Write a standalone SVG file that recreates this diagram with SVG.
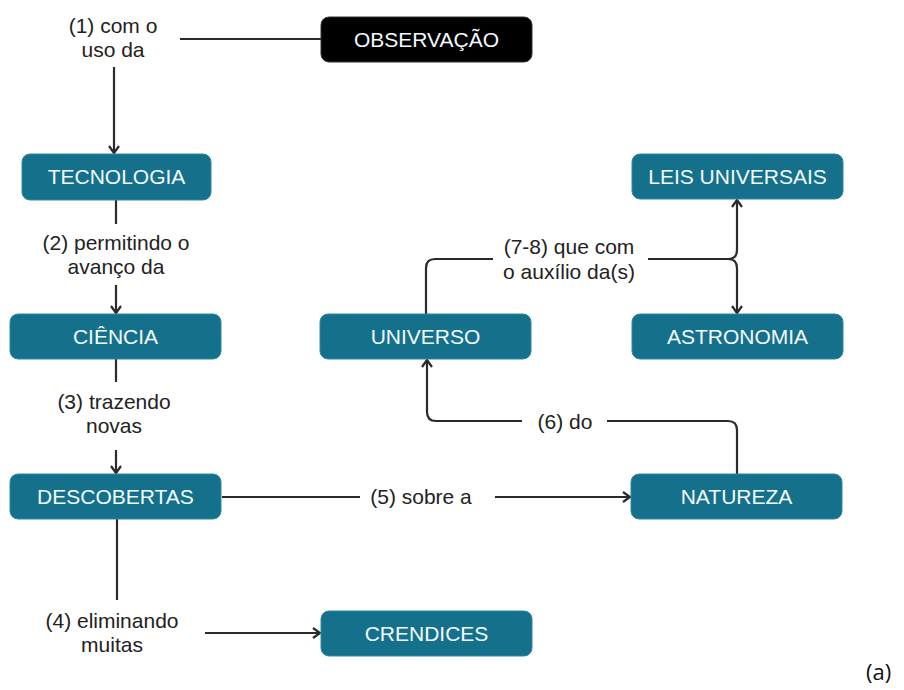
<svg xmlns="http://www.w3.org/2000/svg" width="904" height="690" viewBox="0 0 904 690">
<defs>
<style>
.node{fill:#15708b;stroke:#2a8aa6;stroke-width:1}
.obs{fill:#000;stroke:#333;stroke-width:1}
.nt{font-family:"Liberation Sans",Arial,sans-serif;font-size:21px;fill:#f2fbff;text-anchor:middle}
.lb{font-family:"Liberation Sans",Arial,sans-serif;font-size:21px;fill:#222;text-anchor:middle}
.ln{fill:none;stroke:#2b2b2b;stroke-width:2.2}
</style>
<marker id="ah" markerUnits="userSpaceOnUse" markerWidth="14" markerHeight="14" refX="9" refY="6" orient="auto">
<path d="M2,1 L9,6 L2,11" fill="none" stroke="#2b2b2b" stroke-width="2.2"/>
</marker>
</defs>
<rect width="904" height="690" fill="#fff"/>
<g id="connectors">
<line class="ln" x1="180" y1="39" x2="321" y2="39"/>
<line class="ln" x1="114" y1="67" x2="114" y2="153" marker-end="url(#ah)"/>
<line class="ln" x1="116" y1="200" x2="116" y2="224"/>
<line class="ln" x1="116" y1="285" x2="116" y2="313" marker-end="url(#ah)"/>
<line class="ln" x1="116" y1="359" x2="116" y2="382"/>
<line class="ln" x1="116" y1="450" x2="116" y2="473" marker-end="url(#ah)"/>
<line class="ln" x1="117" y1="519" x2="117" y2="600"/>
<line class="ln" x1="205" y1="633" x2="320" y2="633" marker-end="url(#ah)"/>
<line class="ln" x1="222" y1="497" x2="360" y2="497"/>
<line class="ln" x1="495" y1="497" x2="630" y2="497" marker-end="url(#ah)"/>
<path class="ln" d="M737,474 V430 Q737,421 728,421 H607"/>
<path class="ln" d="M522,421 H436 Q427,421 427,412 V360" marker-end="url(#ah)"/>
<path class="ln" d="M426,314 V268 Q426,259 435,259 H493"/>
<path class="ln" d="M648,259 H728 Q737,259 737,250 V200" marker-end="url(#ah)"/>
<path class="ln" d="M728,259 Q737,259 737,268 V313" marker-end="url(#ah)"/>
</g>
<g id="label1"><text class="lb" x="113" y="33">(1) com o</text><text class="lb" x="113" y="57">uso da</text></g>
<g id="label2"><text class="lb" x="116" y="250">(2) permitindo o</text><text class="lb" x="116" y="274">avanço da</text></g>
<g id="label3"><text class="lb" x="114" y="409">(3) trazendo</text><text class="lb" x="114" y="433">novas</text></g>
<g id="label4"><text class="lb" x="112" y="628">(4) eliminando</text><text class="lb" x="112" y="652">muitas</text></g>
<g id="label5"><text class="lb" x="421" y="504">(5) sobre a</text></g>
<g id="label6"><text class="lb" x="565" y="429">(6) do</text></g>
<g id="label78"><text class="lb" x="569" y="254">(7-8) que com</text><text class="lb" x="569" y="279">o auxílio da(s)</text></g>
<g id="observacao"><rect class="obs" x="321" y="17" width="211" height="45" rx="8"/><text class="nt" x="426.5" y="47">OBSERVAÇÃO</text></g>
<g id="tecnologia"><rect class="node" x="22" y="154" width="189" height="46" rx="8"/><text class="nt" x="116.5" y="184">TECNOLOGIA</text></g>
<g id="ciencia"><rect class="node" x="10" y="314" width="211" height="45" rx="8"/><text class="nt" x="115.5" y="344">CIÊNCIA</text></g>
<g id="descobertas"><rect class="node" x="10" y="474" width="211" height="45" rx="8"/><text class="nt" x="115.5" y="504">DESCOBERTAS</text></g>
<g id="crendices"><rect class="node" x="321" y="611" width="211" height="45" rx="8"/><text class="nt" x="426.5" y="641">CRENDICES</text></g>
<g id="universo"><rect class="node" x="320" y="314" width="211" height="45" rx="8"/><text class="nt" x="425.5" y="344">UNIVERSO</text></g>
<g id="natureza"><rect class="node" x="631" y="474" width="211" height="45" rx="8"/><text class="nt" x="736.5" y="504">NATUREZA</text></g>
<g id="leis"><rect class="node" x="632" y="154" width="211" height="45" rx="8"/><text class="nt" x="737.5" y="184">LEIS UNIVERSAIS</text></g>
<g id="astronomia"><rect class="node" x="632" y="314" width="211" height="45" rx="8"/><text class="nt" x="737.5" y="344">ASTRONOMIA</text></g>
<text x="866" y="680" style="font-family:'Open Sans','Liberation Sans',sans-serif;font-size:22px;fill:#111">(a)</text>
</svg>
